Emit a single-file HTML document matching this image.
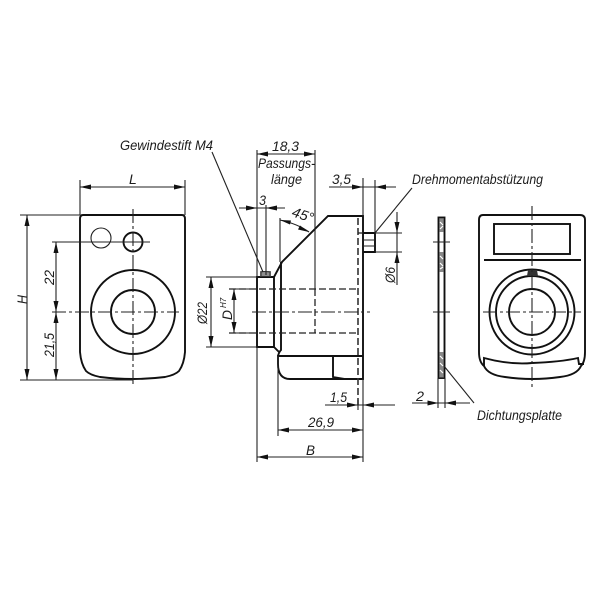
<!DOCTYPE html>
<html><head><meta charset="utf-8"><style>
html,body{margin:0;padding:0;background:#fff}
svg{display:block}
text{font-family:"Liberation Sans",sans-serif;font-style:italic;fill:#1c1c1c;font-size:14px;-webkit-text-stroke:0.35px #1c1c1c}
.m{fill:none;stroke:#111;stroke-width:1.9}
.t{fill:none;stroke:#222;stroke-width:1.1}
.c{fill:none;stroke:#222;stroke-width:1.1;stroke-dasharray:14 3 3 3}
.d{fill:none;stroke:#222;stroke-width:1.3;stroke-dasharray:7 3}
.dm{fill:none;stroke:#333;stroke-width:1.6;stroke-dasharray:7 3}
.a{fill:#111;stroke:none}
</style></head><body>
<svg width="600" height="600" viewBox="0 0 600 600" xmlns="http://www.w3.org/2000/svg">
<defs>
<path id="r" class="a" d="M0 0L-11 -2.500V2.500Z"/>
<path id="l" class="a" d="M0 0L11 -2.500V2.500Z"/>
<path id="u" class="a" d="M0 0L-2.500 11H2.500Z"/>
<path id="w" class="a" d="M0 0L-2.500 -11H2.500Z"/>
</defs>
<g style="filter:blur(.35px)">
<!-- LEFT VIEW -->
<path class="m" d="M83 215H182Q185 215 185 219V352Q184 364 179 371Q175 375 165 377Q133 381 100 377Q90 375 86 371Q81 364 80 352V219Q80 215 83 215Z"/>
<circle class="m" cx="133" cy="312" r="42"/>
<circle class="m" cx="133" cy="312" r="22"/>
<circle class="m" cx="133" cy="242" r="9.500"/>
<circle class="t" cx="101" cy="238" r="10"/>
<path class="c" d="M133 209V384M52 312H179"/>
<path class="t" d="M52 242H150M20 215H80M20 380H133M80 180V215M185 180V215M56 242V380M27 215V380"/>
<path class="t" d="M80 187H185"/>
<use href="#l" x="80" y="187"/><use href="#r" x="185" y="187"/>
<use href="#u" x="27" y="215"/><use href="#w" x="27" y="380"/>
<use href="#u" x="56" y="242"/><use href="#w" x="56" y="312"/><use href="#u" x="56" y="312"/><use href="#w" x="56" y="380"/>
<text x="129" y="184">L</text>
<text transform="translate(27,304) rotate(-90)" textLength="9" lengthAdjust="spacingAndGlyphs">H</text>
<text transform="translate(54,285) rotate(-90)" textLength="15" lengthAdjust="spacingAndGlyphs">22</text>
<text transform="translate(54,357) rotate(-90)" textLength="24" lengthAdjust="spacingAndGlyphs">21,5</text>

<!-- MIDDLE VIEW -->
<path class="m" d="M257 347V277H274V347Z"/>
<path class="m" d="M274 277L282 262 328 216H363V379H290Q278 379 278 364V356H363M281 262V350Q279 352 278 356M274 347L279 352M333 356V377L345 379"/>
<path class="m" d="M363 233H375V252H363"/>
<path class="t" d="M363 240H375M363 246H375M261 277V272Q264 271 270 272V277"/>
<rect x="260" y="271" width="11" height="6" fill="#444" opacity=".6"/>
<path class="d" d="M229 289H358M229 333H358M315 289V333"/>
<path class="dm" d="M358 218V405"/>
<path class="d" d="M358 233H363"/>
<path class="c" d="M252 312H370"/>
<path class="t" d="M315 150V289M257 150V277M257 347V462M266 205V275M280 218V262M363 178V216M375 180V233M278 356V436M363 379V462M358 400V410"/>
<path class="t" d="M257 154H315M239 208H285M329 187H396M325 405H395M278 430H363M257 457H363"/>
<use href="#l" x="257" y="154"/><use href="#r" x="315" y="154"/>
<use href="#r" x="257" y="208"/><use href="#l" x="266" y="208"/>
<use href="#r" x="363" y="187"/><use href="#l" x="375" y="187"/>
<use href="#r" x="358" y="405"/><use href="#l" x="363" y="405"/>
<use href="#l" x="278" y="430"/><use href="#r" x="363" y="430"/>
<use href="#l" x="257" y="457"/><use href="#r" x="363" y="457"/>
<path class="t" d="M280 220Q298 224 309 232"/>
<path class="a" d="M280 220L291 220.500 290 224.500ZM309 232L300 225.500 298 229.500Z"/>
<path class="t" d="M206 277H257M206 347H257M230 289H257M230 333H257M211 277V347M234 289V333"/>
<use href="#u" x="211" y="277"/><use href="#w" x="211" y="347"/>
<use href="#u" x="234" y="289"/><use href="#w" x="234" y="333"/>
<path class="t" d="M212 152L263 272"/>
<path class="t" d="M375 233L412 188M375 233H402M375 252H402M397 212V285"/>
<use href="#w" x="397" y="233"/><use href="#u" x="397" y="252"/>

<text x="120" y="150" textLength="93" lengthAdjust="spacingAndGlyphs">Gewindestift M4</text>
<text x="272" y="151" textLength="27" lengthAdjust="spacingAndGlyphs">18,3</text>
<text x="258" y="168" textLength="57" lengthAdjust="spacingAndGlyphs">Passungs-</text>
<text x="271" y="184" textLength="31" lengthAdjust="spacingAndGlyphs">länge</text>
<text x="259" y="205" textLength="7" lengthAdjust="spacingAndGlyphs">3</text>
<text transform="translate(291,216) rotate(18)" textLength="22" lengthAdjust="spacingAndGlyphs">45°</text>
<text x="332" y="184" textLength="19" lengthAdjust="spacingAndGlyphs">3,5</text>
<text x="412" y="184" textLength="131" lengthAdjust="spacingAndGlyphs">Drehmomentabstützung</text>
<text transform="translate(207,324) rotate(-90)" textLength="22" lengthAdjust="spacingAndGlyphs">Ø22</text>
<text transform="translate(232,320) rotate(-90)" textLength="10" lengthAdjust="spacingAndGlyphs">D</text>
<text transform="translate(226,308) rotate(-90)" style="font-size:8px">H7</text>
<text x="330" y="402" textLength="17" lengthAdjust="spacingAndGlyphs">1,5</text>
<text x="308" y="427" textLength="26" lengthAdjust="spacingAndGlyphs">26,9</text>
<text x="306" y="455" textLength="9" lengthAdjust="spacingAndGlyphs">B</text>
<text transform="translate(395,283) rotate(-90)" textLength="16" lengthAdjust="spacingAndGlyphs">Ø6</text>

<!-- SIDE PLATE -->
<rect class="m" x="438.500" y="217.500" width="6" height="160.500"/>
<rect x="439" y="218" width="5" height="14" fill="#555" opacity=".7"/>
<rect x="439" y="252" width="5" height="20" fill="#555" opacity=".7"/>
<rect x="439" y="352" width="5" height="26" fill="#555" opacity=".7"/>
<path d="M440 222l3 3M440 229l3-3M440 256l3 3M440 263l3 3M440 269l3-2M440 356l3 3M440 363l3 3M440 370l3 3" stroke="#fff" stroke-width="1.200" fill="none"/>
<path class="t" d="M433 242H450M433 312H450M438 378V408M445 378V408M412 403H470"/>
<use href="#r" x="438.500" y="403"/><use href="#l" x="445" y="403"/>
<path class="t" d="M444 366L474 403"/>
<text x="416" y="401" textLength="8" lengthAdjust="spacingAndGlyphs">2</text>
<text x="477" y="420" textLength="85" lengthAdjust="spacingAndGlyphs">Dichtungsplatte</text>

<!-- RIGHT VIEW -->
<path class="m" d="M483 215H580Q585 215 585 220V352Q585 362 581 366 577 375 560 377 532 381 505 377 488 375 484 366 479 362 479 352V220Q479 215 483 215Z"/>
<rect class="m" x="494" y="224" width="76" height="30"/>
<path class="m" d="M484 260H581"/>
<circle class="m" cx="532" cy="312" r="42.500"/>
<circle class="m" cx="532" cy="312" r="36"/>
<circle class="m" cx="532" cy="312" r="23"/>
<path d="M527 276L528 270H537L538 276Z" fill="#333"/>
<path class="m" d="M484 366V358Q510 365 532 363 560 362 578 358L579 364H584"/>
<path class="c" d="M532 206V388M483 312H581"/>
</g>
</svg>
</body></html>
